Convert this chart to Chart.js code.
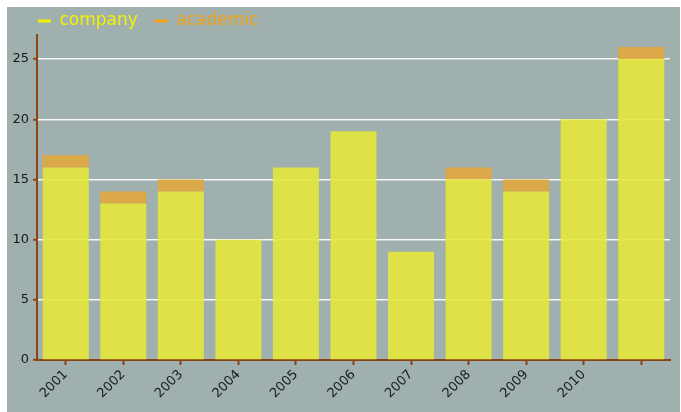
<!DOCTYPE html>
<html><head><meta charset="utf-8">
<script src="https://cdn.jsdelivr.net/npm/chart.js@4"></script>
<style>
html,body{margin:0;padding:0;background:#fff;}
#wrap{position:absolute;left:7px;top:7px;width:673px;height:405px;background:#9fb0ae;}
canvas{display:block;}
</style></head><body>
<div id="wrap"><canvas id="c" width="673" height="405"></canvas></div>
<script>
const categories = ['2001','2002','2003','2004','2005','2006','2007','2008','2009','2010',''];
const company = [16,13,14,10,16,19,9,15,14,20,25];
const academic = [1,1,1,0,0,0,0,1,1,0,1];
const yTicks = [0,5,10,15,20,25];
const seriesNames = ['company','academic'];

const brown = '#8b4513';
const legendColors = ['#f2f200','#f0a010'];
const barColors = ['rgba(228,232,60,0.9)','rgba(225,168,60,0.9)'];
const font = 'DejaVu Sans';

const legendShift = {
  id: 'legendShift',
  afterLayout(ch) { if (ch.legend) { ch.legend.left += 14; ch.legend.right += 14; } }
};

const chart = new Chart(document.getElementById('c'), {
  type: 'bar',
  data: {
    labels: categories,
    datasets: [
      {label: seriesNames[0], data: company, backgroundColor: barColors[0], borderWidth: 0, categoryPercentage: 0.8, barPercentage: 1},
      {label: seriesNames[1], data: academic, backgroundColor: barColors[1], borderWidth: 0, categoryPercentage: 0.8, barPercentage: 1}
    ]
  },
  plugins: [legendShift],
  options: {
    responsive: false,
    animation: false,
    devicePixelRatio: 1,
    layout: {padding: {top: -11.5, left: 0, right: 10, bottom: 0}},
    plugins: {
      tooltip: {enabled: false},
      legend: {
        align: 'start',
        labels: {
          boxWidth: 13, boxHeight: 3, padding: 17,
          font: {family: font, size: 17},
          generateLabels(ch) {
            return ch.data.datasets.map((ds, i) => ({
              text: ds.label, fillStyle: legendColors[i], strokeStyle: legendColors[i],
              lineWidth: 0, fontColor: legendColors[i], hidden: false, datasetIndex: i
            }));
          }
        }
      }
    },
    scales: {
      x: {
        stacked: true,
        grid: {display: true, drawOnChartArea: false, drawTicks: true, tickLength: 5, tickWidth: 2, tickColor: brown, offset: false},
        border: {color: brown, width: 2},
        ticks: {minRotation: 45, maxRotation: 45, autoSkip: false, font: {family: font, size: 13}, color: '#1a1a1a', padding: 2},
        afterFit(s) { s.height = 52; }
      },
      y: {
        stacked: true,
        min: 0, max: 27,
        afterBuildTicks(s) { s.ticks = yTicks.map(v => ({value: v})); },
        grid: {
          color: (ctx) => (ctx.tick && ctx.tick.value === 0) ? 'rgba(0,0,0,0)' : 'rgba(255,255,255,0.9)',
          lineWidth: 1.5, tickLength: 4, tickWidth: 2, tickColor: brown
        },
        border: {color: brown, width: 2},
        ticks: {font: {family: font, size: 13}, color: '#1a1a1a', padding: 4},
        afterFit(s) { s.width = 30; }
      }
    }
  }
});
const lg = chart.legend;
const origFit = lg.fit.bind(lg);
lg.fit = function() { origFit(); this.height = 39.5; };
chart.update();
</script>
</body></html>
